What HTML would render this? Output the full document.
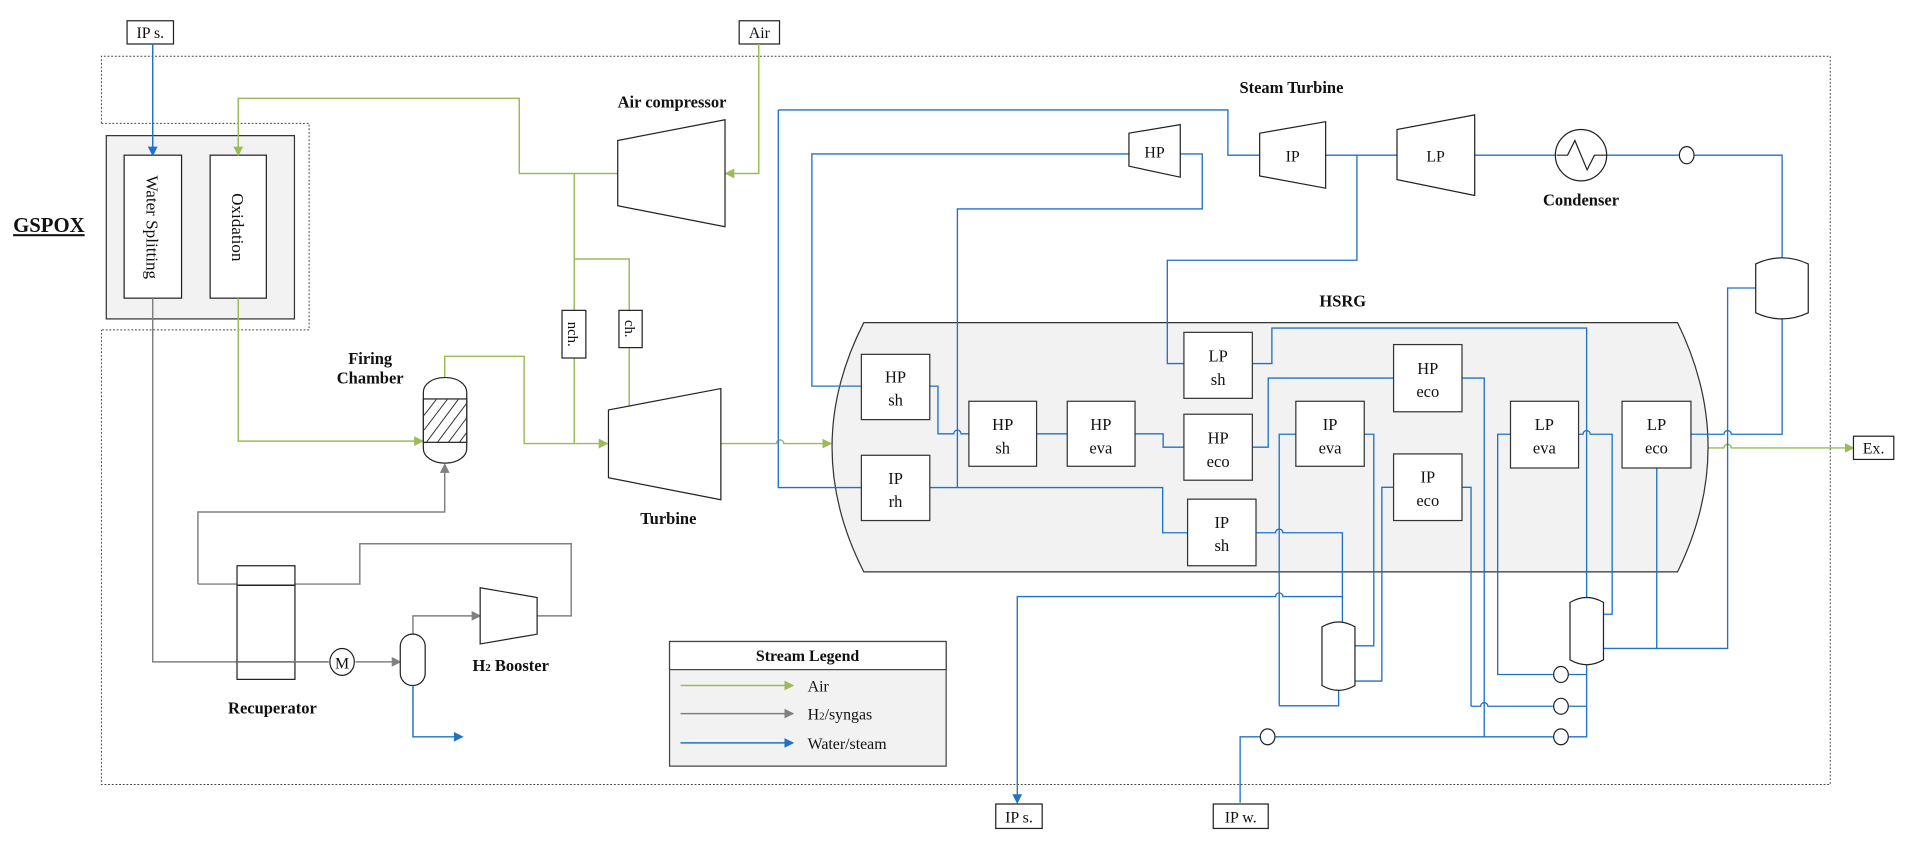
<!DOCTYPE html>
<html><head><meta charset="utf-8"><style>
html,body{margin:0;padding:0;background:#fff;}
svg{display:block;}
text{font-family:"Liberation Serif",serif;fill:#111;}
</style></head><body>
<svg width="1906" height="848" viewBox="0 0 1560 694" preserveAspectRatio="none" xmlns="http://www.w3.org/2000/svg">
<defs>
<marker id="ag" markerWidth="8" markerHeight="8" refX="7" refY="4" orient="auto" markerUnits="userSpaceOnUse"><path d="M0,0 L8,4 L0,8 z" fill="#9bbb59"/></marker>
<marker id="ar" markerWidth="8" markerHeight="8" refX="7" refY="4" orient="auto" markerUnits="userSpaceOnUse"><path d="M0,0 L8,4 L0,8 z" fill="#808080"/></marker>
<marker id="ab" markerWidth="8" markerHeight="8" refX="7" refY="4" orient="auto" markerUnits="userSpaceOnUse"><path d="M0,0 L8,4 L0,8 z" fill="#1f72c8"/></marker>
</defs>

<path d="M83,101 L83,46 L1498,46 L1498,642 L83,642 L83,270" fill="none" stroke="#444" stroke-width="0.8" stroke-dasharray="1.5,1.5"/>
<path d="M83,101 L253,101 L253,270 L83,270" fill="none" stroke="#444" stroke-width="0.8" stroke-dasharray="1.5,1.5"/>

<text x="40" y="190" font-size="17" font-weight="bold" text-anchor="middle" text-decoration="underline">GSPOX</text>
<rect x="87" y="111" width="154" height="150" fill="#f2f2f2" stroke="#333" stroke-width="1"/>
<rect x="101.6" y="127" width="47" height="117" fill="#fff" stroke="#222" stroke-width="1"/>
<rect x="172" y="127" width="46" height="117" fill="#fff" stroke="#222" stroke-width="1"/>
<text transform="translate(120,186) rotate(90)" font-size="14" text-anchor="middle">Water Splitting</text>
<text transform="translate(190,186) rotate(90)" font-size="14" text-anchor="middle">Oxidation</text>

<rect x="104" y="17" width="38" height="19" fill="#fff" stroke="#222"/>
<text x="123" y="31" font-size="13" text-anchor="middle">IP s.</text>
<rect x="605" y="17" width="33" height="19" fill="#fff" stroke="#222"/>
<text x="621.5" y="31" font-size="13" text-anchor="middle">Air</text>
<line x1="125" y1="36" x2="125" y2="127" stroke="#1f72c8" stroke-width="1.2" marker-end="url(#ab)"/>

<g fill="none" stroke="#9bbb59" stroke-width="1.2">
<path d="M506,142 L425,142 L425,80.5 L195,80.5 L195,127" marker-end="url(#ag)"/>
<path d="M621,36 L621,142 L594,142" marker-end="url(#ag)"/>
<path d="M470,142 L470,363"/>
<path d="M470,212 L515,212 L515,332"/>
<path d="M195,244 L195,361 L346,361" marker-end="url(#ag)"/>
<path d="M364,309 L364,291.6 L429,291.6 L429,363 L497,363" marker-end="url(#ag)"/>
<path d="M590,363 L635.5,363 A3,3 0 0 1 641.5,363 L680,363" marker-end="url(#ag)"/>
<path d="M1398,366.6 L1411,366.6 A3,3 0 0 1 1417,366.6 L1517,366.6" marker-end="url(#ag)"/>
</g>
<rect x="460" y="254" width="19.5" height="39" fill="#fff" stroke="#222"/>
<text transform="translate(465,273.5) rotate(90)" font-size="12" text-anchor="middle">nch.</text>
<rect x="506.6" y="254" width="19" height="30.5" fill="#fff" stroke="#222"/>
<text transform="translate(511.5,269) rotate(90)" font-size="12" text-anchor="middle">ch.</text>

<text x="550" y="88" font-size="13.5" font-weight="bold" text-anchor="middle">Air compressor</text>
<polygon points="505.6,115 593.4,98 593.4,185.6 505.6,168.4" fill="#fff" stroke="#222"/>
<polygon points="498,335.5 590,318 590,409 498,391" fill="#fff" stroke="#222"/>
<text x="547" y="429" font-size="13.5" font-weight="bold" text-anchor="middle">Turbine</text>

<text x="303" y="298" font-size="13.5" font-weight="bold" text-anchor="middle">Firing</text>
<text x="303" y="314" font-size="13.5" font-weight="bold" text-anchor="middle">Chamber</text>
<rect x="346.5" y="309" width="35.5" height="70" rx="17" ry="12" fill="#fff" stroke="#222"/>
<rect x="346.5" y="326.5" width="35.5" height="35.5" fill="#fff" stroke="#222"/>
<g stroke="#333" stroke-width="0.8">
<line x1="347" y1="340" x2="357" y2="327"/><line x1="347" y1="352" x2="366" y2="327"/>
<line x1="349" y1="362" x2="375" y2="327"/><line x1="358" y1="362" x2="382" y2="330"/>
<line x1="367" y1="362" x2="382" y2="342"/><line x1="376" y1="362" x2="382" y2="354"/>
</g>

<g fill="none" stroke="#808080" stroke-width="1.2">
<path d="M125,244 L125,541.7 L269,541.7"/>
<path d="M291,541.7 L327.6,541.7" marker-end="url(#ar)"/>
<path d="M162,478 L162,419 L364,419 L364,380" marker-end="url(#ar)"/>
<path d="M162,478 L294.5,478 L294.5,445 L467.5,445 L467.5,504 L439.6,504"/>
<path d="M338,519 L338,504 L393,504" marker-end="url(#ar)"/>
</g>
<rect x="194" y="463" width="47.4" height="93" fill="#fff" stroke="#222"/>
<line x1="194" y1="479" x2="241.4" y2="479" stroke="#222" stroke-width="1.2"/>
<line x1="194" y1="541.7" x2="241.4" y2="541.7" stroke="#222" stroke-width="1.2"/>
<line x1="194" y1="541.7" x2="269" y2="541.7" stroke="#808080" stroke-width="1.2"/>
<text x="223" y="584" font-size="13.5" font-weight="bold" text-anchor="middle">Recuperator</text>
<ellipse cx="280" cy="541.7" rx="10" ry="11" fill="#fff" stroke="#222"/>
<text x="280" y="547" font-size="13" text-anchor="middle">M</text>
<rect x="327.6" y="519" width="20.4" height="42" rx="10" ry="10" fill="#fff" stroke="#222"/>
<polygon points="393,481 439.6,489 439.6,519 393,527" fill="#fff" stroke="#222"/>
<text x="418" y="549" font-size="13.5" font-weight="bold" text-anchor="middle">H<tspan font-size="9">2</tspan> Booster</text>
<path d="M338,561 L338,603 L378.5,603" fill="none" stroke="#1f72c8" stroke-width="1.2" marker-end="url(#ab)"/>

<rect x="548" y="525" width="226.4" height="102" fill="#f2f2f2" stroke="#444"/>
<rect x="548" y="525" width="226.4" height="23" fill="#fff" stroke="#444"/>
<text x="661" y="541" font-size="13" font-weight="bold" text-anchor="middle">Stream Legend</text>
<line x1="557" y1="561" x2="649" y2="561" stroke="#9bbb59" stroke-width="1.2" marker-end="url(#ag)"/>
<line x1="557" y1="584" x2="649" y2="584" stroke="#808080" stroke-width="1.2" marker-end="url(#ar)"/>
<line x1="557" y1="608" x2="649" y2="608" stroke="#1f72c8" stroke-width="1.2" marker-end="url(#ab)"/>
<text x="661" y="566" font-size="13">Air</text>
<text x="661" y="589" font-size="13">H<tspan font-size="9">2</tspan>/syngas</text>
<text x="661" y="613" font-size="13">Water/steam</text>

<text x="1099" y="251" font-size="13.5" font-weight="bold" text-anchor="middle">HSRG</text>
<path d="M707,264 L1373,264 Q1423,366 1373,468 L707,468 Q655,366 707,264 Z" fill="#f2f2f2" stroke="#333" stroke-width="1"/>

<text x="1057" y="76" font-size="13.5" font-weight="bold" text-anchor="middle">Steam Turbine</text>

<g fill="none" stroke="#1f72c8" stroke-width="1.1">
<path d="M924,126 L664.5,126 L664.5,316 L705,316"/>
<path d="M966,126 L984,126 L984,171 L783.6,171 L783.6,399"/>
<path d="M637,90 L1005,90 L1005,127 L1031,127"/>
<path d="M637,90 L637,399 L705,399"/>
<path d="M761,399 L951.6,399 L951.6,436 L972,436"/>
<path d="M1085,127 L1143,127"/>
<path d="M1207,127 L1273,127"/>
<path d="M1315,127 L1374,127 M1387,127 L1458.6,127 L1458.6,212"/>
<path d="M1110.6,127 L1110.6,213 L955.4,213 L955.4,297.5 L969,297.5"/>
<path d="M761,316 L767.7,316 L767.7,355 L780.6,355 A3,3 0 0 1 786.6,355 L793,355"/>
<path d="M848.4,355 L873.5,355"/>
<path d="M929,355 L952,355 L952,366 L969,366"/>
<path d="M1025,366 L1038,366 L1038,309.4 L1140.6,309.4"/>
<path d="M1025,297.5 L1041,297.5 L1041,268.5 L1298.6,268.5 L1298.6,489"/>
<path d="M1196.7,309.4 L1214.8,309.4 L1214.8,603"/>
<path d="M1047,577.6 L1047,355.4 L1060.6,355.4"/>
<path d="M1047,577.6 L1095.6,577.6 L1095.6,564.5"/>
<path d="M1116.8,355.4 L1124.4,355.4 L1124.4,528.5 L1109,528.5"/>
<path d="M1140.6,398.8 L1131,398.8 L1131,557.4 L1109,557.4"/>
<path d="M1196.7,398.8 L1204,398.8 L1204,578"/>
<path d="M1028,436 L1044,436 A3,3 0 0 1 1050,436 L1098.7,436 L1098.7,509"/>
<path d="M1098.7,488.2 L1050,488.2 A3,3 0 0 0 1044,488.2 L832.6,488.2 L832.6,657" marker-end="url(#ab)"/>
<path d="M1236.3,355.4 L1225.8,355.4 L1225.8,552 L1271,552 M1284,552 L1298.6,552"/>
<path d="M1292,355.4 L1295.6,355.4 A3,3 0 0 1 1301.6,355.4 L1319.5,355.4 L1319.5,502.7 L1312.4,502.7"/>
<path d="M1384,355.4 L1411,355.4 A3,3 0 0 1 1417,355.4 L1458.6,355.4 L1458.6,260"/>
<path d="M1437,235.7 L1414,235.7 L1414,530.7 L1312.4,530.7"/>
<path d="M1356,383 L1356,530.7"/>
<path d="M1204,578 L1211.8,578 A3,3 0 0 1 1217.8,578 L1271,578 M1284,578 L1298.6,578"/>
<path d="M1015,657 L1015,603 L1031,603 M1044,603 L1271,603 M1284,603 L1298.6,603 L1298.6,543.6"/>
</g>

<polygon points="924,109 966,102 966,145 924,136" fill="#fff" stroke="#222"/>
<text x="945" y="129" font-size="13" text-anchor="middle">HP</text>
<polygon points="1031,109 1085,99.6 1085,154 1031,144" fill="#fff" stroke="#222"/>
<text x="1058" y="132" font-size="13" text-anchor="middle">IP</text>
<polygon points="1143.4,106 1207,94 1207,160 1143.4,147" fill="#fff" stroke="#222"/>
<text x="1175" y="132" font-size="13" text-anchor="middle">LP</text>
<circle cx="1294" cy="127" r="21" fill="#fff" stroke="#222"/>
<path d="M1274,127 L1283,127 L1289,115 L1299,139 L1305,127 L1315,127" fill="none" stroke="#222"/>
<text x="1294" y="168" font-size="13.5" font-weight="bold" text-anchor="middle">Condenser</text>
<ellipse cx="1380.5" cy="127" rx="6" ry="7" fill="#fff" stroke="#222"/>

<path d="M1437,216 Q1458.5,206 1480,216 L1480,256 Q1458.5,266 1437,256 Z" fill="#fff" stroke="#222"/>
<path d="M1285,493 Q1298.6,485 1312.4,493 L1312.4,540 Q1298.6,548 1285,540 Z" fill="#fff" stroke="#222"/>
<path d="M1082,513 Q1095.6,505 1109,513 L1109,561 Q1095.6,569 1082,561 Z" fill="#fff" stroke="#222"/>

<ellipse cx="1277.6" cy="552" rx="6" ry="6.5" fill="#fff" stroke="#222"/>
<ellipse cx="1277.6" cy="578" rx="6" ry="6.5" fill="#fff" stroke="#222"/>
<ellipse cx="1277.6" cy="603" rx="6" ry="6.5" fill="#fff" stroke="#222"/>
<ellipse cx="1037.5" cy="603" rx="6" ry="6.5" fill="#fff" stroke="#222"/>

<g fill="#fff" stroke="#333" stroke-width="1">
<rect x="705" y="290" width="56" height="53.4"/>
<rect x="793" y="328.4" width="55.4" height="53.2"/>
<rect x="873.5" y="328.4" width="55.5" height="53.2"/>
<rect x="969" y="339" width="56" height="54"/>
<rect x="969" y="272" width="56" height="54"/>
<rect x="1060.6" y="328.4" width="56" height="53.2"/>
<rect x="1140.6" y="282" width="56" height="55"/>
<rect x="1140.6" y="371.5" width="56" height="54.5"/>
<rect x="705" y="372.6" width="56" height="53.4"/>
<rect x="972" y="408.5" width="56" height="54.5"/>
<rect x="1236.3" y="328.4" width="55.7" height="54.6"/>
<rect x="1327.6" y="328.4" width="56.4" height="54.6"/>
</g>
<g font-size="13.5" text-anchor="middle">
<text x="733" y="313">HP</text><text x="733" y="332">sh</text>
<text x="820.7" y="352">HP</text><text x="820.7" y="371">sh</text>
<text x="901" y="352">HP</text><text x="901" y="371">eva</text>
<text x="997" y="363">HP</text><text x="997" y="382">eco</text>
<text x="997" y="296">LP</text><text x="997" y="315">sh</text>
<text x="1088.6" y="352">IP</text><text x="1088.6" y="371">eva</text>
<text x="1168.6" y="306">HP</text><text x="1168.6" y="325">eco</text>
<text x="1168.6" y="395">IP</text><text x="1168.6" y="414">eco</text>
<text x="733" y="396">IP</text><text x="733" y="415">rh</text>
<text x="1000" y="432">IP</text><text x="1000" y="451">sh</text>
<text x="1264" y="352">LP</text><text x="1264" y="371">eva</text>
<text x="1355.8" y="352">LP</text><text x="1355.8" y="371">eco</text>
</g>

<rect x="815" y="658" width="38" height="20" fill="#fff" stroke="#222"/>
<text x="834" y="673" font-size="13" text-anchor="middle">IP s.</text>
<rect x="993" y="658" width="45" height="20" fill="#fff" stroke="#222"/>
<text x="1015.5" y="673" font-size="13" text-anchor="middle">IP w.</text>
<rect x="1517" y="357" width="33" height="19" fill="#fff" stroke="#222"/>
<text x="1533.5" y="371" font-size="13" text-anchor="middle">Ex.</text>
</svg>
</body></html>
